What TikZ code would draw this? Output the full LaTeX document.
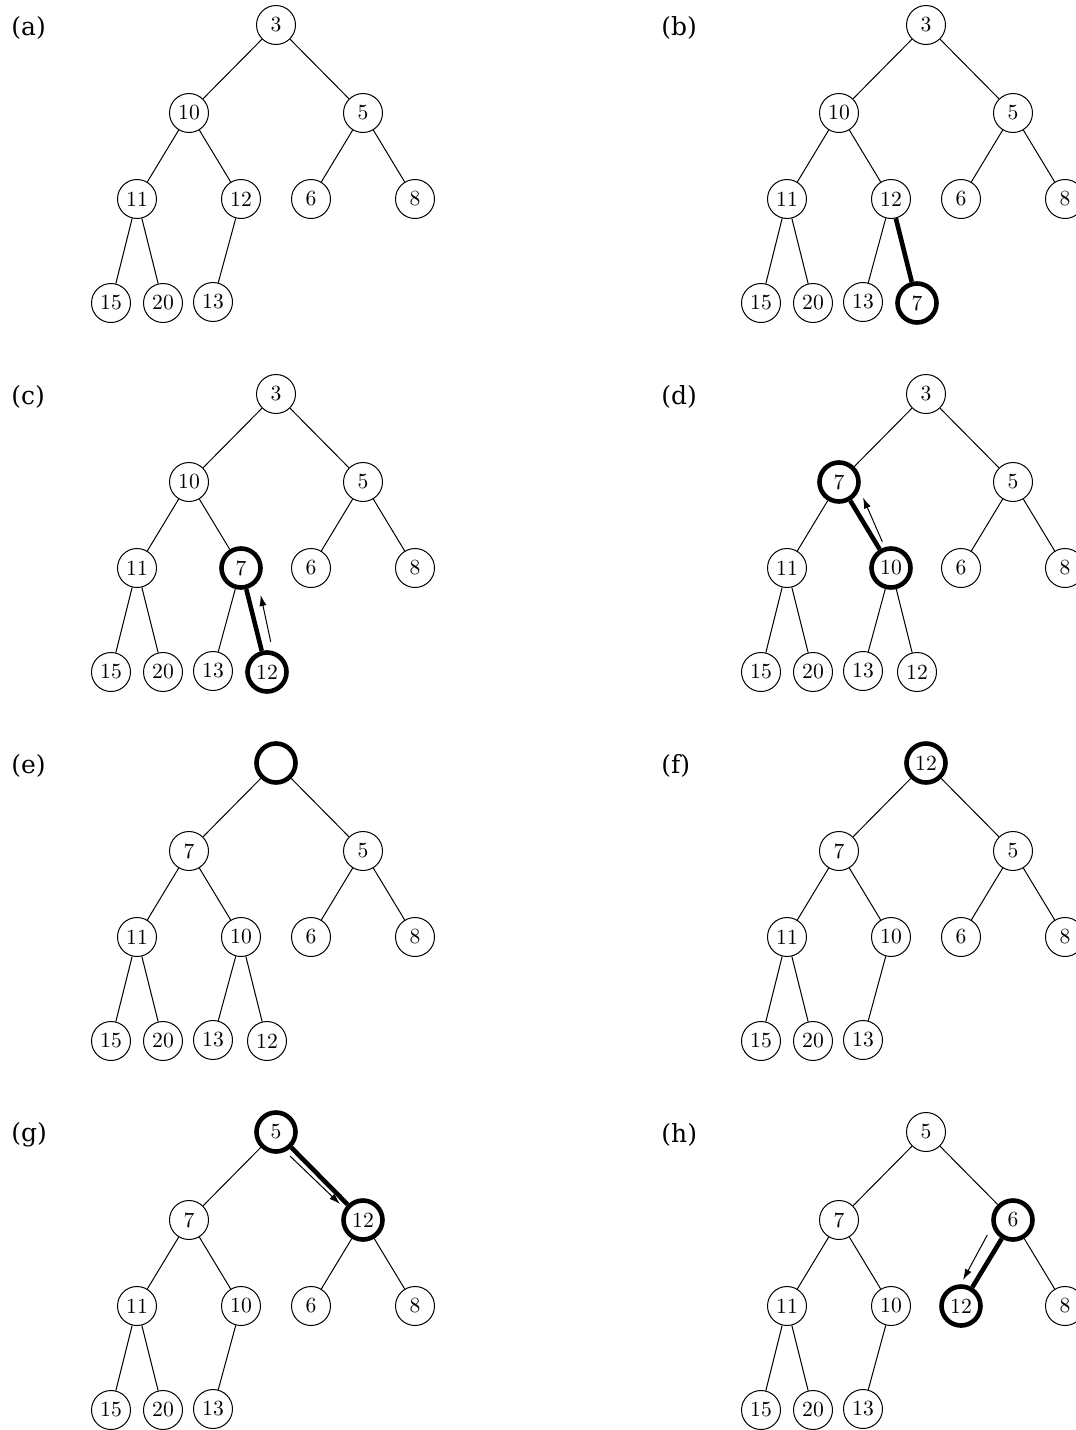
\documentclass[tikz,border=0pt]{standalone}
\usepackage{fontspec}
\newfontfamily\labfont{DejaVu Serif}
\usetikzlibrary{arrows.meta}
\begin{document}
\begin{tikzpicture}[x=0.5pt,y=-0.5pt,
 hn/.style={circle,draw,line width=0.5pt,minimum size=19.5pt,inner sep=0pt,font=\fontsize{10.8}{12}\selectfont},
 hk/.style={hn,line width=2.3pt},
 ed/.style={line width=0.5pt},
 edk/.style={line width=2.3pt},
 mv/.style={line width=0.5pt,-{Latex[length=5.5pt,width=3.6pt]}},
 lab/.style={anchor=west,inner sep=0pt,font=\labfont\fontsize{12.5}{14}\selectfont}]
\useasboundingbox (0,0) rectangle (1076,1430);

% ---------- (a)
\begin{scope}[shift={(0,0)}]
\node[lab] (la) at (11,28) {(a)};
\node[hn] (a-r) at (276,25) {3};
\node[hn] (a-L) at (189,113) {10};
\node[hn] (a-R) at (363,113) {5};
\node[hn] (a-LL) at (137,199) {11};
\node[hn] (a-LR) at (241,199) {12};
\node[hn] (a-RL) at (311,199) {6};
\node[hn] (a-RR) at (415,199) {8};
\node[hn] (a-LLL) at (111,303) {15};
\node[hn] (a-LLR) at (163,303) {20};
\node[hn] (a-LRL) at (213,302) {13};
\draw[ed] (a-r)--(a-L) (a-r)--(a-R) (a-L)--(a-LL) (a-L)--(a-LR) (a-R)--(a-RL) (a-R)--(a-RR)
 (a-LL)--(a-LLL) (a-LL)--(a-LLR) (a-LR)--(a-LRL);
\end{scope}

% ---------- (b)
\begin{scope}[shift={(650,0)}]
\node[lab] (lb) at (11,28) {(b)};
\node[hn] (b-r) at (276,25) {3};
\node[hn] (b-L) at (189,113) {10};
\node[hn] (b-R) at (363,113) {5};
\node[hn] (b-LL) at (137,199) {11};
\node[hn] (b-LR) at (241,199) {12};
\node[hn] (b-RL) at (311,199) {6};
\node[hn] (b-RR) at (415,199) {8};
\node[hn] (b-LLL) at (111,303) {15};
\node[hn] (b-LLR) at (163,303) {20};
\node[hn] (b-LRL) at (213,302) {13};
\node[hk] (b-LRR) at (267,303) {7};
\draw[ed] (b-r)--(b-L) (b-r)--(b-R) (b-L)--(b-LL) (b-L)--(b-LR) (b-R)--(b-RL) (b-R)--(b-RR)
 (b-LL)--(b-LLL) (b-LL)--(b-LLR) (b-LR)--(b-LRL);
\draw[edk] (b-LR)--(b-LRR);
\end{scope}

% ---------- (c)
\begin{scope}[shift={(0,369)}]
\node[lab] (lc) at (11,28) {(c)};
\node[hn] (c-r) at (276,25) {3};
\node[hn] (c-L) at (189,113) {10};
\node[hn] (c-R) at (363,113) {5};
\node[hn] (c-LL) at (137,199) {11};
\node[hk] (c-LR) at (241,199) {7};
\node[hn] (c-RL) at (311,199) {6};
\node[hn] (c-RR) at (415,199) {8};
\node[hn] (c-LLL) at (111,303) {15};
\node[hn] (c-LLR) at (163,303) {20};
\node[hn] (c-LRL) at (213,302) {13};
\node[hk] (c-LRR) at (267,303) {12};
\draw[ed] (c-r)--(c-L) (c-r)--(c-R) (c-L)--(c-LL) (c-L)--(c-LR) (c-R)--(c-RL) (c-R)--(c-RR)
 (c-LL)--(c-LLL) (c-LL)--(c-LLR) (c-LR)--(c-LRL);
\draw[edk] (c-LR)--(c-LRR);
\coordinate (c-a1) at (270.7,272.7);
\coordinate (c-a2) at (260.7,226);
\draw[mv] (c-a1)--(c-a2);
\end{scope}

% ---------- (d)
\begin{scope}[shift={(650,369)}]
\node[lab] (ld) at (11,28) {(d)};
\node[hn] (d-r) at (276,25) {3};
\node[hk] (d-L) at (189,113) {7};
\node[hn] (d-R) at (363,113) {5};
\node[hn] (d-LL) at (137,199) {11};
\node[hk] (d-LR) at (241,199) {10};
\node[hn] (d-RL) at (311,199) {6};
\node[hn] (d-RR) at (415,199) {8};
\node[hn] (d-LLL) at (111,303) {15};
\node[hn] (d-LLR) at (163,303) {20};
\node[hn] (d-LRL) at (213,302) {13};
\node[hn] (d-LRR) at (267,303) {12};
\draw[ed] (d-r)--(d-L) (d-r)--(d-R) (d-L)--(d-LL) (d-R)--(d-RL) (d-R)--(d-RR)
 (d-LL)--(d-LLL) (d-LL)--(d-LLR) (d-LR)--(d-LRL) (d-LR)--(d-LRR);
\draw[edk] (d-L)--(d-LR);
\coordinate (d-a1) at (232.3,172.7);
\coordinate (d-a2) at (213,128.5);
\draw[mv] (d-a1)--(d-a2);
\end{scope}

% ---------- (e)
\begin{scope}[shift={(0,738)}]
\node[lab] (le) at (11,28) {(e)};
\node[hk] (e-r) at (276,25) {};
\node[hn] (e-L) at (189,113) {7};
\node[hn] (e-R) at (363,113) {5};
\node[hn] (e-LL) at (137,199) {11};
\node[hn] (e-LR) at (241,199) {10};
\node[hn] (e-RL) at (311,199) {6};
\node[hn] (e-RR) at (415,199) {8};
\node[hn] (e-LLL) at (111,303) {15};
\node[hn] (e-LLR) at (163,303) {20};
\node[hn] (e-LRL) at (213,302) {13};
\node[hn] (e-LRR) at (267,303) {12};
\draw[ed] (e-r)--(e-L) (e-r)--(e-R) (e-L)--(e-LL) (e-L)--(e-LR) (e-R)--(e-RL) (e-R)--(e-RR)
 (e-LL)--(e-LLL) (e-LL)--(e-LLR) (e-LR)--(e-LRL) (e-LR)--(e-LRR);
\end{scope}

% ---------- (f)
\begin{scope}[shift={(650,738)}]
\node[lab] (lf) at (11,28) {(f)};
\node[hk] (f-r) at (276,25) {12};
\node[hn] (f-L) at (189,113) {7};
\node[hn] (f-R) at (363,113) {5};
\node[hn] (f-LL) at (137,199) {11};
\node[hn] (f-LR) at (241,199) {10};
\node[hn] (f-RL) at (311,199) {6};
\node[hn] (f-RR) at (415,199) {8};
\node[hn] (f-LLL) at (111,303) {15};
\node[hn] (f-LLR) at (163,303) {20};
\node[hn] (f-LRL) at (213,302) {13};
\draw[ed] (f-r)--(f-L) (f-r)--(f-R) (f-L)--(f-LL) (f-L)--(f-LR) (f-R)--(f-RL) (f-R)--(f-RR)
 (f-LL)--(f-LLL) (f-LL)--(f-LLR) (f-LR)--(f-LRL);
\end{scope}

% ---------- (g)
\begin{scope}[shift={(0,1107)}]
\node[lab] (lg) at (11,28) {(g)};
\node[hk] (g-r) at (276,25) {5};
\node[hn] (g-L) at (189,113) {7};
\node[hk] (g-R) at (363,113) {12};
\node[hn] (g-LL) at (137,199) {11};
\node[hn] (g-LR) at (241,199) {10};
\node[hn] (g-RL) at (311,199) {6};
\node[hn] (g-RR) at (415,199) {8};
\node[hn] (g-LLL) at (111,303) {15};
\node[hn] (g-LLR) at (163,303) {20};
\node[hn] (g-LRL) at (213,302) {13};
\draw[ed] (g-r)--(g-L) (g-L)--(g-LL) (g-L)--(g-LR) (g-R)--(g-RL) (g-R)--(g-RR)
 (g-LL)--(g-LLL) (g-LL)--(g-LLR) (g-LR)--(g-LRL);
\draw[edk] (g-r)--(g-R);
\coordinate (g-a1) at (290,49);
\coordinate (g-a2) at (340,97);
\draw[mv] (g-a1)--(g-a2);
\end{scope}

% ---------- (h)
\begin{scope}[shift={(650,1107)}]
\node[lab] (lh) at (11,28) {(h)};
\node[hn] (h-r) at (276,25) {5};
\node[hn] (h-L) at (189,113) {7};
\node[hk] (h-R) at (363,113) {6};
\node[hn] (h-LL) at (137,199) {11};
\node[hn] (h-LR) at (241,199) {10};
\node[hk] (h-RL) at (311,199) {12};
\node[hn] (h-RR) at (415,199) {8};
\node[hn] (h-LLL) at (111,303) {15};
\node[hn] (h-LLR) at (163,303) {20};
\node[hn] (h-LRL) at (213,302) {13};
\draw[ed] (h-r)--(h-L) (h-r)--(h-R) (h-L)--(h-LL) (h-L)--(h-LR) (h-R)--(h-RR)
 (h-LL)--(h-LLL) (h-LL)--(h-LLR) (h-LR)--(h-LRL);
\draw[edk] (h-R)--(h-RL);
\coordinate (h-a1) at (337.3,128);
\coordinate (h-a2) at (313,173);
\draw[mv] (h-a1)--(h-a2);
\end{scope}
\end{tikzpicture}
\end{document}
